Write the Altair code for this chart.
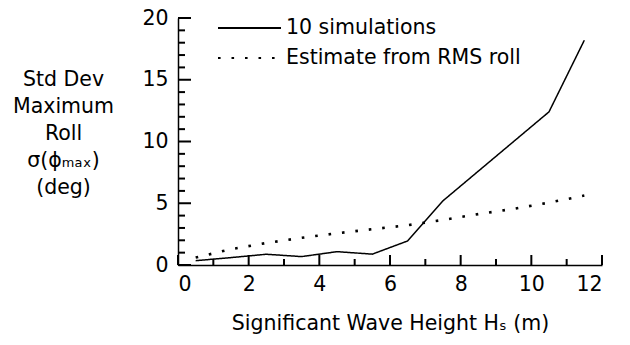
import altair as alt
import pandas as pd

hs = [0.5, 1.5, 2.5, 3.5, 4.5, 5.5, 6.5, 7.5, 8.5, 9.5, 10.5, 11.5]
sim = [0.35, 0.6, 0.87, 0.68, 1.08, 0.88, 1.95, 5.2, 7.6, 10.0, 12.4, 18.2]
est = [0.6, 1.28, 1.78, 2.2, 2.57, 2.9, 3.22, 3.65, 4.12, 4.55, 5.05, 5.62]
series_names = ["10 simulations", "Estimate from RMS roll"]

x_major = [0, 2, 4, 6, 8, 10, 12]
x_minor = [1, 3, 5, 7, 9, 11]
y_major = [0, 5, 10, 15, 20]
y_minor = [1, 2, 3, 4, 6, 7, 8, 9, 11, 12, 13, 14, 16, 17, 18, 19]

FONT = "DejaVu Sans"
FS = 20.5
W, H = 424, 247

df = pd.DataFrame({
    "hs": hs + hs,
    "val": sim + est,
    "series": [series_names[0]] * len(hs) + [series_names[1]] * len(hs),
})

xs = alt.Scale(domain=[0, 12], nice=False)
ys = alt.Scale(domain=[0, 20], nice=False)

x_enc = alt.X("hs:Q", scale=xs,
              axis=alt.Axis(values=x_major, title="Significant Wave Height Hₛ (m)",
                            ticks=False, grid=False, titlePadding=19, labelPadding=9))
y_enc = alt.Y("val:Q", scale=ys,
              axis=alt.Axis(values=y_major, ticks=False, grid=False,
                            title=["Std Dev", "Maximum", "Roll", "σ(ϕₘₐₓ)", "(deg)"],
                            titleAngle=0, titleAlign="center", titleBaseline="alphabetic",
                            titleX=-115, titleY=67, titleLineHeight=27, labelPadding=10))
dash_enc = alt.StrokeDash("series:N",
                          scale=alt.Scale(domain=series_names, range=[[1, 0], [2.6, 10.9]]),
                          legend=alt.Legend(title=None))

solid = alt.Chart(df).transform_filter(
    alt.datum.series == series_names[0]
).mark_line(color="black", strokeWidth=1.5).encode(x=x_enc, y=y_enc, strokeDash=dash_enc)
dotted = alt.Chart(df).transform_filter(
    alt.datum.series == series_names[1]
).mark_line(color="black", strokeWidth=2.6).encode(x=x_enc, y=y_enc, strokeDash=dash_enc)

ymaj = alt.Chart(pd.DataFrame({"v": y_major})).mark_rule(color="black", strokeWidth=2).encode(
    y=alt.Y("v:Q", scale=ys), x=alt.value(0), x2=alt.value(13))
ymin = alt.Chart(pd.DataFrame({"v": y_minor})).mark_rule(color="black", strokeWidth=2).encode(
    y=alt.Y("v:Q", scale=ys), x=alt.value(0), x2=alt.value(7))
xmaj = alt.Chart(pd.DataFrame({"v": x_major})).mark_rule(color="black", strokeWidth=2).encode(
    x=alt.X("v:Q", scale=xs), y=alt.value(H), y2=alt.value(H - 10))
xmin = alt.Chart(pd.DataFrame({"v": x_minor})).mark_rule(color="black", strokeWidth=2).encode(
    x=alt.X("v:Q", scale=xs), y=alt.value(H), y2=alt.value(H - 6))

chart = alt.layer(solid, dotted, ymaj, ymin, xmaj, xmin).properties(
    width=W, height=H,
    autosize=alt.AutoSizeParams(type="none"),
    padding={"left": 170, "top": 10, "right": 20, "bottom": 72},
    background="white",
).configure_view(stroke=None).configure_axis(
    labelFont=FONT, titleFont=FONT, labelFontSize=FS, titleFontSize=FS,
    labelColor="black", titleColor="black", titleFontWeight="normal",
    domainColor="black", domainWidth=1.5,
).configure_legend(
    orient="none", legendX=39, legendY=-1, symbolType="stroke",
    symbolStrokeColor="black", symbolStrokeWidth=2, symbolSize=3969,
    labelFont=FONT, labelFontSize=FS,
    labelColor="black", labelOffset=4, rowPadding=8, clipHeight=22, labelLimit=400,
)

chart.save("out.html", embed_options={"renderer": "svg", "actions": False})
